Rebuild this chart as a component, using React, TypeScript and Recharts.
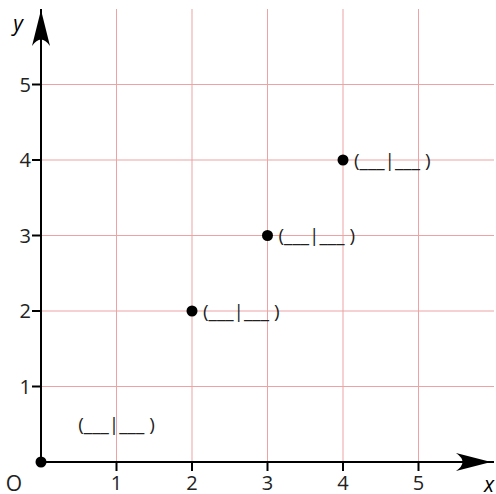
import { ScatterChart, Scatter, XAxis, YAxis, CartesianGrid, ReferenceDot } from 'recharts'

// points on the line y = x
const pointX = [0, 2, 3, 4]
const pointY = [0, 2, 3, 4]
const pointLabel = ['', '(___|___ )', '(___|___ )', '(___|___ )']

// free-standing blank for the origin
const blankX = [1]
const blankY = [0.5]
const blankText = ['(___|___ )']

const axisTicks = [1, 2, 3, 4, 5]
const axisMax = 6

const FONT = '"Open Sans", "Noto Sans", sans-serif'
const GRID = '#eba3a3'

const points = pointX.map((x, i) => ({ x, y: pointY[i], label: pointLabel[i] }))
const blanks = blankX.map((x, i) => ({ x, y: blankY[i], label: blankText[i] }))

function PointShape(props: any) {
  const { cx, cy, payload } = props
  return (
    <g>
      <circle cx={cx} cy={cy} r={5.5} fill="#000" />
      {payload.label ? (
        <text x={cx + 11} y={cy} dy="0.36em" fontSize={19} fontFamily={FONT} fill="#222">
          {payload.label}
        </text>
      ) : null}
    </g>
  )
}

function BlankShape(props: any) {
  const { cx, cy, payload } = props
  return (
    <text x={cx} y={cy} dy="0.36em" textAnchor="middle" fontSize={19} fontFamily={FONT} fill="#222">
      {payload.label}
    </text>
  )
}

function XArrow(props: any) {
  const { cx, cy } = props
  const t = cx - 3
  return (
    <g>
      <path d={`M ${t} ${cy} L ${t - 35} ${cy - 9} Q ${t - 22} ${cy} ${t - 35} ${cy + 9} Z`} fill="#000" />
      <text x={cx - 5} y={cy + 30} textAnchor="middle" fontSize={21} fontStyle="italic" fontFamily={FONT} fill="#000">
        x
      </text>
    </g>
  )
}

function YArrow(props: any) {
  const { cx, cy } = props
  const t = cy + 1
  return (
    <g>
      <path d={`M ${cx} ${t} L ${cx - 9} ${t + 36} Q ${cx} ${t + 23} ${cx + 9} ${t + 36} Z`} fill="#000" />
      <text x={cx - 23} y={cy + 22} textAnchor="middle" fontSize={21} fontStyle="italic" fontFamily={FONT} fill="#000">
        y
      </text>
    </g>
  )
}

function OriginMark(props: any) {
  const { cx, cy } = props
  return (
    <text x={cx - 27} y={cy + 29} textAnchor="middle" fontSize={21} fontFamily={FONT} fill="#222">
      O
    </text>
  )
}

export default function App() {
  return (
    <div style={{ position: 'absolute', left: 0, top: 0, background: '#fff' }}>
      <ScatterChart width={496} height={494} margin={{ top: 9, right: 2, left: 0, bottom: 0 }}>
        <CartesianGrid
          stroke={GRID}
          strokeWidth={1}
          horizontalValues={axisTicks}
          verticalValues={axisTicks}
        />
        <XAxis
          type="number"
          dataKey="x"
          domain={[0, axisMax]}
          ticks={axisTicks}
          height={32}
          axisLine={{ stroke: '#000', strokeWidth: 2 }}
          tickLine={{ stroke: '#000', strokeWidth: 2 }}
          tickSize={9}
          tickMargin={5}
          tick={{ fontSize: 20, fill: '#222', fontFamily: FONT }}
        />
        <YAxis
          type="number"
          dataKey="y"
          domain={[0, axisMax]}
          ticks={axisTicks}
          width={41}
          axisLine={{ stroke: '#000', strokeWidth: 2 }}
          tickLine={{ stroke: '#000', strokeWidth: 2 }}
          tickSize={9}
          tickMargin={1}
          tick={{ fontSize: 20, fill: '#222', fontFamily: FONT }}
        />
        <Scatter data={blanks} shape={BlankShape} isAnimationActive={false} />
        <Scatter data={points} shape={PointShape} isAnimationActive={false} />
        <ReferenceDot x={axisMax} y={0} ifOverflow="visible" shape={XArrow} />
        <ReferenceDot x={0} y={axisMax} ifOverflow="visible" shape={YArrow} />
        <ReferenceDot x={0} y={0} ifOverflow="visible" shape={OriginMark} />
      </ScatterChart>
    </div>
  )
}
